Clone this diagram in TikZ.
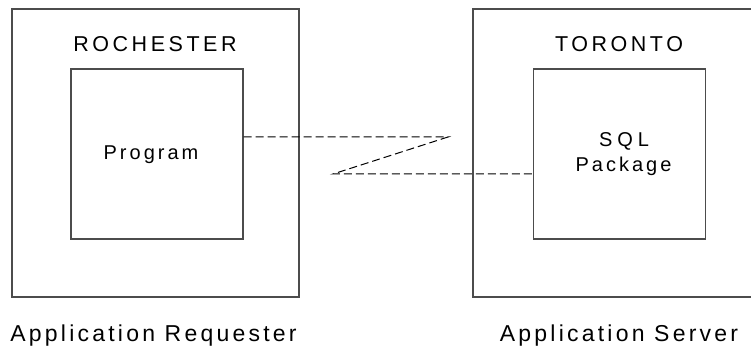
\documentclass[tikz,border=0pt]{standalone}
\usepackage{fontspec}
\setmainfont{Liberation Sans}
\usetikzlibrary{positioning}

\begin{document}
\begin{tikzpicture}
  [x=1pt,y=-1pt,
   site/.style={rectangle,draw=black!70,line width=1.3pt,inner sep=0pt,minimum width=287pt,minimum height=288pt},
   unit/.style={rectangle,draw=black!70,line width=1.3pt,inner sep=0pt,minimum width=172pt,minimum height=170pt},
   label/.style={inner sep=0pt,anchor=base,font=\addfontfeature{LetterSpace=16.5}\fontsize{21.5}{26}\selectfont},
   inlabel/.style={inner sep=0pt,anchor=base,font=\addfontfeature{LetterSpace=15}\fontsize{20}{24}\selectfont},
   caption/.style={inner sep=0pt,anchor=base,font=\addfontfeature{LetterSpace=14}\fontsize{23}{27}\selectfont},
   link/.style={draw=black,line width=1pt,dash pattern=on 8pt off 4pt}]
  \useasboundingbox (0,0) rectangle (751,352);
  \clip (0,0) rectangle (751,352);

  \node (rochester) [site] at (155.5,153) {};
  \node (toronto) [site] at (616.5,153) {};
  \node (prog) [unit] at (157,154) {};
  \node (sqlpkg) [unit] at (619.5,154) {};

  \node (rname) [label] at (155,51.7) {ROCHESTER};
  \node (tname) [label] at (619,51.7) {TORONTO};
  \node (progtext) [inlabel] at (151,160) {Program};
  \node (sqltext) [inlabel,font=\addfontfeature{LetterSpace=25}\fontsize{20}{24}\selectfont] at (624,146.7) {SQL};
  \node (pkgtext) [inlabel] at (623.5,171.7) {Package};

  \node (requester) [caption] at (153.5,341.7) {Application Requester};
  \node (server) [caption] at (619,341.7) {Application Server};

  \coordinate (za) at (448,137);
  \coordinate (zb) at (333,174);
  \draw[link] (prog.east |- za) -- (za) -- (zb) -- (zb -| sqlpkg.west);

\end{tikzpicture}
\end{document}
